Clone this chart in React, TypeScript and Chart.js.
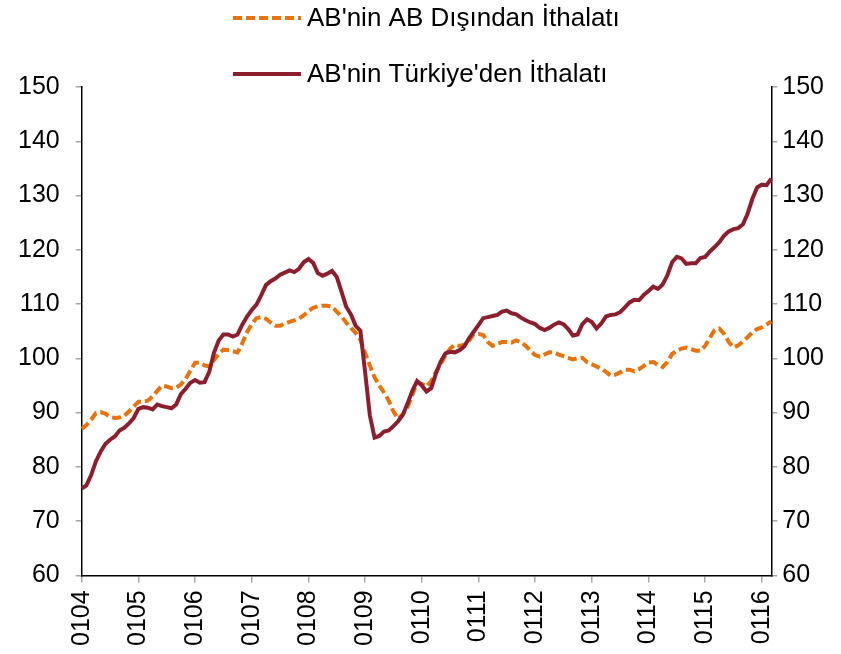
import React, { useEffect, useRef } from "react";
import { Chart, registerables } from "chart.js";

Chart.register(...registerables);

// Monthly categories Jan 2004 – Mar 2016, labelled "MMYY"
const YEARS = ["04", "05", "06", "07", "08", "09", "10", "11", "12", "13", "14", "15", "16"];
const MONTHS = ["01", "02", "03", "04", "05", "06", "07", "08", "09", "10", "11", "12"];
const N_POINTS = 147;
const categories: string[] = [];
YEARS.forEach((y) => MONTHS.forEach((m) => categories.push(m + y)));
categories.length = N_POINTS;

const SERIES_EXTRA_LABEL = "AB'nin AB Dışından İthalatı";
const SERIES_TR_LABEL = "AB'nin Türkiye'den İthalatı";

const euExtraImports = [
  87.0, 87.7, 88.7, 89.9, 90.1, 89.8, 89.2, 89.0, 89.1, 89.4, 90.2, 91.1,
  92.0, 92.0, 92.2, 93.0, 94.0, 95.0, 94.8, 94.5, 94.6, 95.2, 96.2, 97.7,
  99.2, 99.2, 98.7, 98.5, 99.7, 100.8, 101.6, 101.5, 101.3, 101.1, 102.8, 104.8,
  106.3, 107.4, 107.6, 107.3, 106.6, 106.0, 106.0, 106.4, 106.7, 107.0, 107.3, 107.9,
  108.7, 109.3, 109.6, 109.7, 109.7, 109.5, 108.6, 107.7, 106.6, 105.6, 104.7, 103.4,
  101.0, 98.7, 96.5, 95.0, 93.7, 92.2, 90.2, 88.9, 89.7, 91.0, 93.3, 95.5,
  95.3, 94.8, 95.8, 97.5, 98.9, 100.5, 101.8, 102.5, 102.3, 102.5, 103.2, 104.5,
  104.5, 104.3, 103.0, 102.3, 102.7, 103.0, 103.0, 102.9, 103.3, 103.0, 102.3, 101.4,
  100.6, 100.3, 100.7, 101.1, 101.1, 100.7, 100.4, 100.1, 99.8, 100.0, 100.1, 99.3,
  98.9, 98.5, 98.1, 97.5, 96.8, 97.0, 97.4, 97.9, 97.9, 97.6, 98.0, 98.6,
  99.2, 99.3, 98.8, 98.4, 99.3, 100.8, 101.4, 101.8, 102.0, 101.7, 101.4, 101.4,
  102.3, 103.8, 105.2, 105.5, 104.5, 103.0, 102.0, 102.4, 103.1, 103.9, 104.8, 105.4,
  105.7, 106.2, 106.8,
];

const turkeyImports = [
  76.0, 76.6, 78.5, 81.0, 82.8, 84.2, 85.0, 85.6, 86.7, 87.2, 88.0, 89.0,
  90.7, 91.0, 90.9, 90.6, 91.5, 91.2, 91.0, 90.8, 91.5, 93.4, 94.4, 95.5,
  96.0, 95.5, 95.6, 97.5, 101.0, 103.3, 104.4, 104.4, 104.0, 104.4, 106.2, 107.7,
  108.9, 109.9, 111.6, 113.5, 114.2, 114.7, 115.4, 115.8, 116.2, 115.9, 116.5, 117.7,
  118.3, 117.6, 115.7, 115.2, 115.6, 116.1, 115.0, 112.3, 109.5, 108.1, 106.0, 105.1,
  97.5, 89.5, 85.4, 85.7, 86.5, 86.7, 87.5, 88.4, 89.6, 91.7, 94.0, 95.8,
  95.0, 93.9, 94.5, 97.2, 99.4, 100.9, 101.2, 101.1, 101.5, 102.2, 103.7, 104.9,
  106.1, 107.4, 107.6, 107.8, 108.0, 108.6, 108.8, 108.3, 108.1, 107.5, 107.0, 106.6,
  106.3, 105.6, 105.2, 105.6, 106.2, 106.6, 106.3, 105.4, 104.2, 104.4, 106.3, 107.2,
  106.7, 105.5, 106.4, 107.7, 108.0, 108.1, 108.5, 109.4, 110.3, 110.8, 110.7, 111.7,
  112.4, 113.2, 112.8, 113.6, 115.3, 117.7, 118.7, 118.4, 117.4, 117.5, 117.5, 118.5,
  118.7, 119.7, 120.5, 121.4, 122.6, 123.4, 123.8, 124.0, 124.7, 126.7, 129.4, 131.5,
  132.0, 131.9, 133.1,
];

const Y_MIN = 60;
const Y_MAX = 150;
const Y_STEP = 10;

const FONT_FAMILY = '"Liberation Sans", Arial, Helvetica, sans-serif';
const ORANGE = "#E8730C";
const DARK_RED = "#8C1F2E";

const legendPlugin = {
  id: "stackedLegend",
  afterDraw(chart: any) {
    const ctx = chart.ctx as CanvasRenderingContext2D;
    chart.data.datasets.forEach((ds: any, i: number) => {
      const y = 18 + i * 56;
      ctx.save();
      ctx.strokeStyle = ds.borderColor;
      ctx.lineWidth = 4;
      ctx.setLineDash(ds.borderDash || []);
      ctx.beginPath();
      ctx.moveTo(233, y);
      ctx.lineTo(301, y);
      ctx.stroke();
      ctx.setLineDash([]);
      ctx.fillStyle = "#000";
      ctx.font = `26px ${FONT_FAMILY}`;
      ctx.textBaseline = "middle";
      ctx.textAlign = "left";
      ctx.fillText(ds.label, 307, y + 1);
      ctx.restore();
    });
  },
};

export default function App() {
  const canvasRef = useRef<HTMLCanvasElement | null>(null);

  useEffect(() => {
    if (!canvasRef.current) return;
    const tickFont = { family: FONT_FAMILY, size: 25 };
    const chart = new Chart(canvasRef.current, {
      type: "line",
      data: {
        labels: categories,
        datasets: [
          {
            label: SERIES_EXTRA_LABEL,
            data: euExtraImports,
            borderColor: ORANGE,
            backgroundColor: ORANGE,
            borderWidth: 4,
            borderDash: [9, 4],
            pointRadius: 0,
            tension: 0,
            yAxisID: "y",
            order: 1,
          },
          {
            label: SERIES_TR_LABEL,
            data: turkeyImports,
            borderColor: DARK_RED,
            backgroundColor: DARK_RED,
            borderWidth: 4,
            pointRadius: 0,
            tension: 0,
            yAxisID: "y",
            order: 0,
          },
        ],
      },
      options: {
        responsive: false,
        animation: false,
        events: [],
        layout: { padding: { top: 87, left: 2, right: 12, bottom: 0 } },
        plugins: {
          legend: { display: false },
          tooltip: { enabled: false },
          title: { display: false },
        },
        scales: {
          x: {
            type: "category",
            offset: false,
            border: { display: true, color: "#000", width: 1.5 },
            grid: {
              drawOnChartArea: false,
              drawTicks: true,
              tickLength: 7,
              color: "#A6A6A6",
              lineWidth: 1.5,
            },
            ticks: {
              autoSkip: false,
              minRotation: 90,
              maxRotation: 90,
              padding: 8,
              color: "#000",
              font: tickFont,
              callback: (_v: any, idx: number) =>
                categories[idx] && categories[idx].startsWith("01") ? categories[idx] : null,
            },
          },
          y: {
            position: "left",
            min: Y_MIN,
            max: Y_MAX,
            border: { display: true, color: "#000", width: 1.5 },
            grid: {
              drawOnChartArea: false,
              drawTicks: true,
              tickLength: 6,
              color: "#A6A6A6",
              lineWidth: 1.5,
            },
            ticks: { stepSize: Y_STEP, padding: 16, color: "#000", font: tickFont },
          },
          y2: {
            position: "right",
            display: true,
            min: Y_MIN,
            max: Y_MAX,
            border: { display: true, color: "#000", width: 1.5 },
            grid: {
              drawOnChartArea: false,
              drawTicks: true,
              tickLength: 6,
              color: "#A6A6A6",
              lineWidth: 1.5,
            },
            ticks: { stepSize: Y_STEP, padding: 5, color: "#000", font: tickFont },
          },
        },
      },
      plugins: [legendPlugin],
    });
    return () => chart.destroy();
  }, []);

  return (
    <div style={{ position: "absolute", left: 0, top: 0, width: 841, height: 654, background: "#fff" }}>
      <canvas ref={canvasRef} width={841} height={654} style={{ display: "block" }} />
    </div>
  );
}
